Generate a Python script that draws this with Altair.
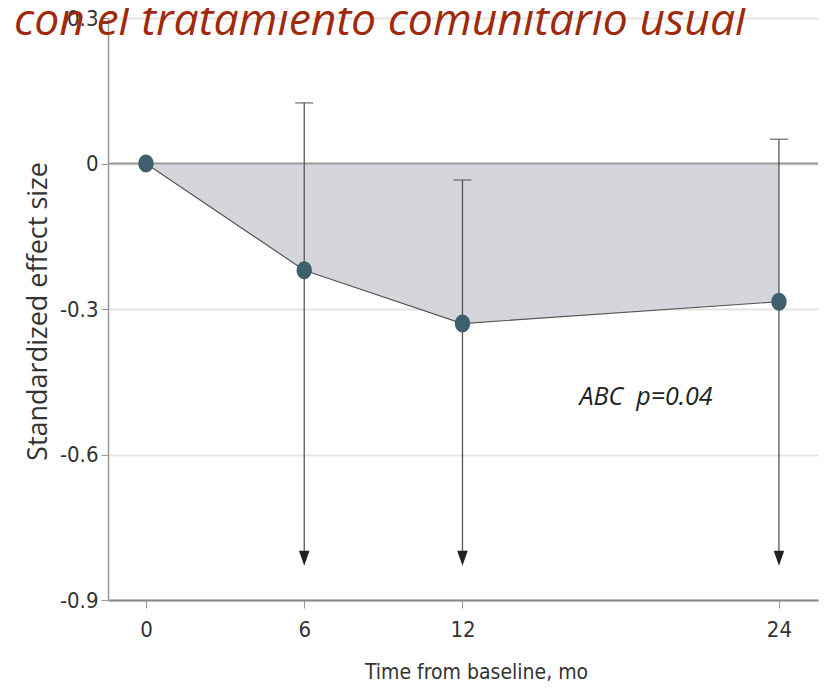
import altair as alt
import pandas as pd

months = [0, 6, 12, 24]
effect = [0.0, -0.22, -0.33, -0.285]
upper = [None, 0.125, -0.034, 0.05]
arrow_end = [None, -0.814, -0.814, -0.814]
y_ticks = [0.3, 0, -0.3, -0.6, -0.9]
title_text = "con el tratamiento comunitario usual"
note_text = "ABC\u00a0\u00a0p=0.04"

df = pd.DataFrame({"m": months, "e": effect, "u": upper, "lo": arrow_end})
ci = df.dropna()

cond = "'DejaVu Sans Condensed', 'Liberation Sans Narrow', 'Roboto Condensed', 'Noto Sans', sans-serif"

xs = alt.Scale(domain=[-1.44, 25.48], nice=False, zero=False)
ys = alt.Scale(domain=[-0.9, 0.3], nice=False, zero=False)

X = alt.X("m:Q", scale=xs, axis=alt.Axis(
    values=months, grid=False, title="Time from baseline, mo",
    tickSize=8, tickColor="#999", domainColor="#888", domainWidth=2,
    labelFont=cond, labelFontSize=22, labelColor="#333", labelPadding=11,
    titleFont=cond, titleFontSize=21, titleFontWeight="normal", titleColor="#333",
    titleX=368, titleY=72, titleBaseline="middle", titleAlign="center"))
Y = alt.Y("e:Q", scale=ys, axis=alt.Axis(
    values=y_ticks, grid=True, gridColor="#e4e4e4", gridWidth=2,
    title="Standardized effect size",
    tickSize=7, tickColor="#999", domainColor="#999", domainWidth=1.5,
    labelFont=cond, labelFontSize=22, labelColor="#333", labelPadding=3,
    labelExpr="datum.value == 0 ? '0' : replace(format(datum.value, '.1f'), '\u2212', '-')",
    titleFont="Open Sans", titleFontSize=27, titleFontWeight="normal", titleColor="#333",
    titleX=-70, titleY=293, titleAngle=-90, titleBaseline="middle", titleAlign="center"))

base = alt.Chart(df)

area = base.mark_area(color="#d5d6db", opacity=1).encode(x=X, y=Y, y2=alt.datum(0))
zero = alt.Chart(pd.DataFrame({"a": [0]})).mark_rule(color="#9a9a9a", strokeWidth=2).encode(
    y=alt.datum(0, scale=ys), x=alt.datum(-1.44, scale=xs), x2=alt.datum(25.48))
line = base.mark_line(color="#555", strokeWidth=1.2).encode(x=X, y=Y)
err = alt.Chart(ci).mark_rule(color="#555", strokeWidth=1.3).encode(
    x=alt.X("m:Q", scale=xs), y=alt.Y("u:Q", scale=ys), y2="lo:Q")
caps = alt.Chart(ci).mark_tick(orient="horizontal", color="#555", size=18, thickness=1.5).encode(
    x=alt.X("m:Q", scale=xs), y=alt.Y("u:Q", scale=ys))
arrows = alt.Chart(ci).mark_point(shape="M-0.7,-1L0.7,-1L0,1Z", filled=True, color="#222",
                                  size=225, opacity=1).encode(
    x=alt.X("m:Q", scale=xs), y=alt.Y("lo:Q", scale=ys))
pts = base.mark_point(
    shape="M-0.85,0a0.85,1 0 1,0 1.7,0a0.85,1 0 1,0 -1.7,0",
    filled=True, color="#3e5f6b", size=324, opacity=1).encode(x=X, y=Y)
note = alt.Chart(pd.DataFrame({"t": [note_text]})).mark_text(
    font="Open Sans", fontStyle="italic", fontSize=25, color="#222", align="left", baseline="middle").encode(
    x=alt.datum(16.44, scale=xs), y=alt.datum(-0.481, scale=ys), text="t:N")
title = alt.Chart(pd.DataFrame({"t": [title_text]})).mark_text(
    font="Open Sans", fontStyle="italic", fontSize=44.5, color="#9e290b", align="left", baseline="alphabetic").encode(
    x=alt.value(-94), y=alt.value(17), text="t:N")

chart = alt.layer(area, zero, line, err, caps, arrows, pts, note, title).properties(
    width=710, height=582,
    autosize=alt.AutoSizeParams(type="none"),
    padding={"left": 100, "top": 10, "right": 5, "bottom": 83},
).configure_view(stroke=None)

chart.save("out.html", embed_options={"renderer": "svg", "actions": False})
